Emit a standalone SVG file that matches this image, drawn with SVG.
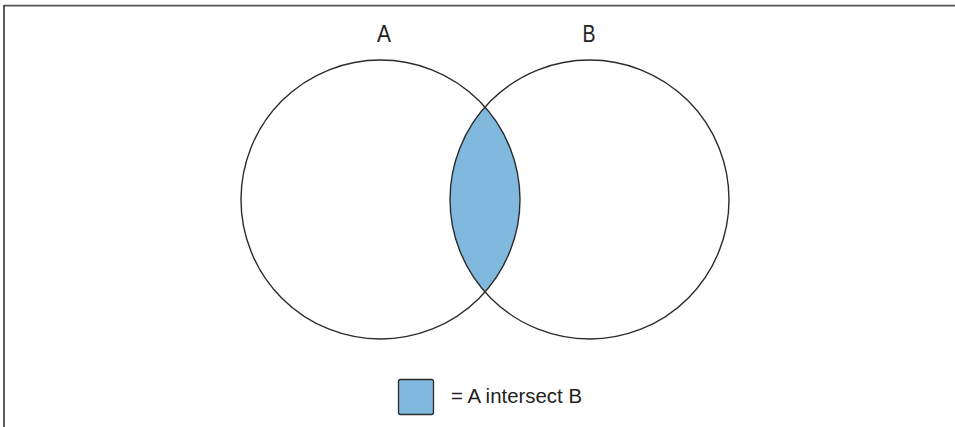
<svg xmlns="http://www.w3.org/2000/svg" width="955" height="427" viewBox="0 0 955 427">
<style>
.frame{stroke:#555;stroke-width:1.6;fill:none}
.set{fill:none;stroke:#2b2b2b;stroke-width:1.4}
.fillx{fill:#80b8de}
.lbl{font-family:"Liberation Sans",Arial,sans-serif;fill:#222}
</style>
<rect width="955" height="427" fill="#fff"/>
<g id="frame">
<line class="frame" x1="4" y1="5.6" x2="955" y2="5.6"/>
<line class="frame" x1="4" y1="5" x2="4" y2="427" style="stroke:#333"/>
</g>
<g id="intersection">
<path class="fillx" d="M485,107.1 A139.5,139.5 0 0 1 485,291.9 A139.5,139.5 0 0 1 485,107.1 Z"/>
</g>
<g id="setA">
<circle class="set" cx="380.5" cy="199.5" r="139.5"/>
<text class="lbl" x="384" y="42" font-size="24" text-anchor="middle" textLength="14" lengthAdjust="spacingAndGlyphs">A</text>
</g>
<g id="setB">
<circle class="set" cx="589.5" cy="199.5" r="139.5"/>
<text class="lbl" x="589" y="42" font-size="24" text-anchor="middle" textLength="13" lengthAdjust="spacingAndGlyphs">B</text>
</g>
<g id="legend">
<rect x="398.5" y="379.5" width="35" height="35" rx="2" class="fillx" stroke="#2b2b2b" stroke-width="1.3"/>
<text class="lbl" x="451" y="403" font-size="20" textLength="131" lengthAdjust="spacingAndGlyphs">= A intersect B</text>
</g>
</svg>
